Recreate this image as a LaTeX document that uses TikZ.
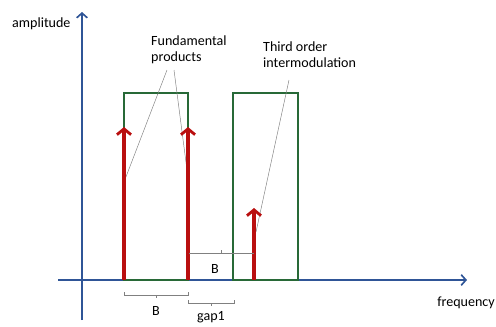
\documentclass[tikz,border=0pt]{standalone}
\usepackage{fontspec}
\setmainfont{Carlito}
\usetikzlibrary{arrows.meta}

\definecolor{axisblue}{RGB}{47,85,151}
\definecolor{bandgreen}{RGB}{40,105,55}
\definecolor{tonered}{RGB}{185,15,15}

\begin{document}
\begin{tikzpicture}[x=0.03cm, y=-0.03cm,
    font=\fontsize{12}{13.8}\selectfont,
    axis/.style={draw=axisblue, line width=1.6pt, -{Straight Barb[length=4pt,width=9pt,line width=1.4pt]}},
    band/.style={draw=bandgreen, line width=1.3pt},
    tone/.style={draw=tonered, line width=2.8pt, -{Straight Barb[length=5pt,width=12pt,line width=2.4pt]}},
    leader/.style={draw=gray, line width=0.4pt},
    span/.style={draw=gray, line width=0.6pt},
    label/.style={inner sep=0pt}]
    \useasboundingbox (0,0) rectangle (496,326);

    % Axes
    \draw[axis] (58,280) -- (467,280);
    \draw[axis] (82,320) -- (82,12);
    \node[label, anchor=west] (amp) at (12,24) {amplitude};
    \node[label] (freq) at (466,303) {frequency};

    % Bands
    \draw[band] (124,93) rectangle (188,280);
    \draw[band] (233,93) rectangle (298,280);

    % Tone ends
    \coordinate (f1) at (124,280);
    \coordinate (f2) at (188,280);
    \coordinate (im3) at (254,280);

    % Labels and leaders
    \node[label, anchor=west, align=left] (fund) at (151,50) {Fundamental\\products};
    \node[label, anchor=west, align=left] (third) at (263,55) {Third order\\intermodulation};
    \coordinate (fundA) at (167,70);
    \coordinate (fundB) at (174,70);
    \coordinate (thirdA) at (289,80);
    \draw[leader] (fundA) -- (124,182);
    \draw[leader] (fundB) -- (187,170);
    \draw[leader] (thirdA) -- (256,232);

    % Tones
    \draw[tone] (f1) -- (124,127);
    \draw[tone] (f2) -- (188,127);
    \draw[tone] (im3) -- (254,208);

    % Spacings
    \draw[span] (189,253) -- (254,253);
    \draw[span] (221,253) -- (221,250);
    \node[label] (bw2) at (215,269) {B};
    \draw[span] (124,292) -- (124,295) -- (188,295) -- (188,292);
    \draw[span] (156,295) -- (156,298);
    \node[label] (bw1) at (156,311) {B};
    \draw[span] (188,300) -- (188,303) -- (234,303) -- (234,300);
    \draw[span] (211,303) -- (211,306);
    \node[label] (gap) at (211,317) {gap1};
\end{tikzpicture}
\end{document}
